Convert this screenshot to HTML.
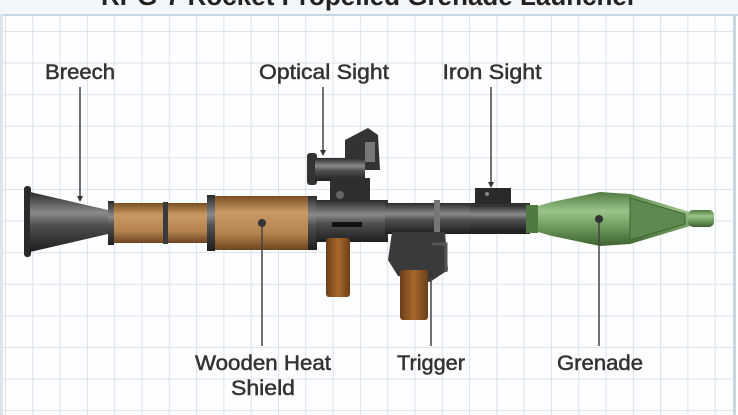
<!DOCTYPE html>
<html><head><meta charset="utf-8"><style>
html,body{margin:0;padding:0;}
body{width:738px;height:415px;overflow:hidden;background:#fff;position:relative;}
.grid{position:absolute;left:3px;top:14px;width:730px;height:401px;
background-color:#fdfeff;
background-image:linear-gradient(to right,#dde2ea 1px,transparent 1px),linear-gradient(to bottom,#dde2ea 1px,transparent 1px);
background-size:27.3px 31.6px;background-position:2px 17px;}
</style></head><body>
<div class="grid"></div>
<div style="position:absolute;left:0;top:0;width:738px;height:14px;background:#f4f7fa;border-bottom:2px solid #c9d6e2;"></div>
<div style="position:absolute;left:733px;top:14px;width:3px;height:401px;background:#c9d6e2"></div>
<div style="position:absolute;left:0;top:14px;width:3px;height:401px;background:#dde6ee"></div>
<svg width="738" height="415" style="position:absolute;left:0;top:0" font-family="'Liberation Sans',sans-serif">
<defs>
<linearGradient id="m" x1="0" y1="0" x2="0" y2="1"><stop offset="0" stop-color="#2a2a2a"/><stop offset=".35" stop-color="#8a8a8a"/><stop offset=".55" stop-color="#505050"/><stop offset="1" stop-color="#1e1e1e"/></linearGradient>
<linearGradient id="w" x1="0" y1="0" x2="0" y2="1"><stop offset="0" stop-color="#7a4e22"/><stop offset=".3" stop-color="#c89a66"/><stop offset=".7" stop-color="#b4834f"/><stop offset="1" stop-color="#6e4520"/></linearGradient>
<linearGradient id="g" x1="0" y1="0" x2="0" y2="1"><stop offset="0" stop-color="#4f7a40"/><stop offset=".35" stop-color="#9cc48a"/><stop offset=".65" stop-color="#6f9a5d"/><stop offset="1" stop-color="#3d6130"/></linearGradient>
<linearGradient id="gw" x1="0" y1="0" x2="1" y2="0"><stop offset="0" stop-color="#6b3f17"/><stop offset=".5" stop-color="#a8672d"/><stop offset="1" stop-color="#6b3f17"/></linearGradient>
</defs>
<text x="369" y="5" text-anchor="middle" font-weight="bold" font-size="26" fill="#222">RPG-7 Rocket Propelled Grenade Launcher</text>
<!-- breech -->
<rect x="24" y="186" width="7" height="71" rx="3" fill="#2a2a2a"/>
<path d="M30 192 L108 210 L108 234 L30 252 Z" fill="url(#m)"/>
<!-- tube wood -->
<rect x="108" y="203" width="100" height="40" fill="url(#w)"/>
<rect x="108" y="201" width="6" height="44" fill="url(#m)"/>
<rect x="163" y="202" width="5" height="42" fill="#3a3a3a"/>
<rect x="207" y="195" width="8" height="56" fill="url(#m)"/>
<rect x="215" y="196" width="95" height="54" fill="url(#w)"/>
<rect x="308" y="196" width="9" height="54" fill="url(#m)"/>
<!-- optical sight -->
<path d="M345 140 L368 128 L378 135 L380 170 L345 170 Z" fill="#333"/>
<rect x="365" y="142" width="10" height="20" fill="#777"/>
<rect x="307" y="153" width="10" height="32" rx="3" fill="#333"/>
<rect x="315" y="158" width="50" height="23" fill="url(#m)"/>
<rect x="330" y="178" width="40" height="26" fill="#2e2e2e"/>
<circle cx="340" cy="195" r="4" fill="#666"/>
<!-- body -->
<rect x="316" y="200" width="72" height="42" fill="url(#m)"/>
<rect x="385" y="203" width="145" height="31" fill="url(#m)"/>
<rect x="434" y="200" width="6" height="37" fill="#777"/>
<rect x="470" y="205" width="58" height="27" fill="url(#m)"/>
<rect x="332" y="222" width="30" height="5" fill="#111"/>
<!-- iron sight -->
<rect x="475" y="188" width="36" height="16" fill="#2a2a2a"/>
<circle cx="487" cy="194" r="2" fill="#888"/>
<!-- grips -->
<rect x="326" y="238" width="24" height="59" rx="3" fill="url(#gw)"/>
<path d="M392 232 L445 232 L448 270 L430 282 L398 276 L388 260 Z" fill="#3a3a3a"/>
<path d="M432 244 L446 244 L446 272" fill="none" stroke="#555" stroke-width="3"/>
<rect x="400" y="270" width="28" height="50" rx="3" fill="url(#gw)"/>
<!-- grenade -->
<rect x="526" y="205" width="12" height="28" fill="#4f7a40"/>
<path d="M538 206 L552 202 L600 192 L630 194 L690 212 L690 226 L630 244 L600 246 L552 236 L538 232 Z" fill="url(#g)"/>
<path d="M630 198 L685 214 L685 224 L630 240 Z" fill="#5f8a4f" stroke="#3f6530" stroke-width="1"/>
<rect x="688" y="210" width="26" height="17" rx="5" fill="url(#g)"/>
<!-- leaders -->
<g stroke="#444" stroke-width="1.5" fill="none">
<line x1="80" y1="87" x2="80" y2="200"/><line x1="323" y1="87" x2="323" y2="152"/><line x1="491" y1="87" x2="491" y2="185"/>
<line x1="262" y1="224" x2="262" y2="346"/><line x1="431" y1="275" x2="431" y2="346"/><line x1="599" y1="220" x2="599" y2="346"/>
</g>
<g fill="#333"><path d="M77 196 L83 196 L80 202Z"/><path d="M320 150 L326 150 L323 156Z"/><path d="M488 182 L494 182 L491 188Z"/>
<circle cx="262" cy="223" r="4"/><circle cx="599" cy="219" r="4"/><path d="M428 277 L434 277 L431 271Z"/></g>
<g font-size="21" fill="#333" stroke="#333" stroke-width="0.5" text-anchor="middle">
<text x="80" y="79" textLength="70" lengthAdjust="spacingAndGlyphs">Breech</text>
<text x="324" y="79" textLength="130" lengthAdjust="spacingAndGlyphs">Optical Sight</text>
<text x="492" y="79" textLength="99" lengthAdjust="spacingAndGlyphs">Iron Sight</text>
<text x="263" y="370" textLength="136" lengthAdjust="spacingAndGlyphs">Wooden Heat</text>
<text x="263" y="395" textLength="64" lengthAdjust="spacingAndGlyphs">Shield</text>
<text x="431" y="370" textLength="68" lengthAdjust="spacingAndGlyphs">Trigger</text>
<text x="600" y="370" textLength="86" lengthAdjust="spacingAndGlyphs">Grenade</text>
</g>
</svg>
</body></html>
